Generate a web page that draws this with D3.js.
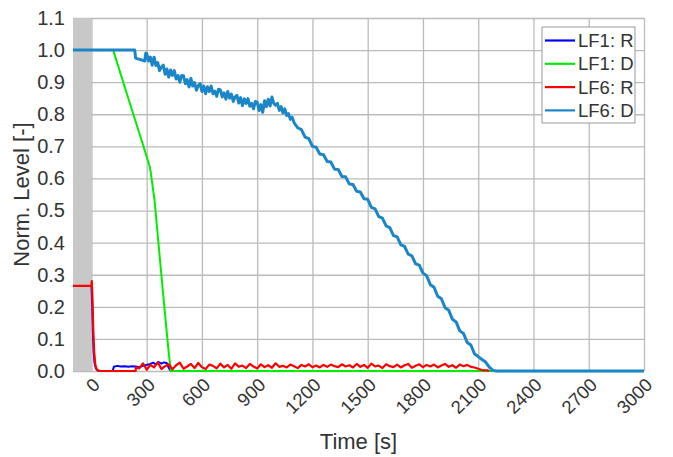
<!DOCTYPE html>
<html>
<head>
<meta charset="utf-8">
<script src="https://cdn.jsdelivr.net/npm/d3@7"></script>
<style>
  body { margin: 0; background: #fff; }
  text { font-family: "Liberation Sans", Arial, sans-serif; fill: #333; }
</style>
</head>
<body>
<div id="chart"></div>
<script>
// tick values for both axes
const xTicks = [0, 300, 600, 900, 1200, 1500, 1800, 2100, 2400, 2700, 3000];
const yTicks = [0, 0.1, 0.2, 0.3, 0.4, 0.5, 0.6, 0.7, 0.8, 0.9, 1.0, 1.1];

// series names, same order as the legend
const seriesNames = ["LF1: R", "LF1: D", "LF6: R", "LF6: D"];
const seriesColors = ["#0000ff", "#00ee00", "#ff0000", "#1a86c8"];

// LF1: R  [time, level]
const lf1R = [
    [0, 0.27], [4, 0.21], [8, 0.12], [12, 0.06], [17, 0.025], [24, 0.008], [32, 0.002], [45, 0],
    [115, 0], [122, 0.013], [140, 0.016], [160, 0.014], [180, 0.015], [200, 0.013],
    [220, 0.015], [240, 0.014], [260, 0.012], [280, 0.016], [300, 0.019], [320, 0.022],
    [335, 0.026], [350, 0.021], [365, 0.028], [380, 0.023], [395, 0.027], [410, 0.024],
    [418, 0.012], [428, 0.002], [440, 0], [3000, 0]
];

// LF1: D
const lf1D = [
    [-100, 1.0], [118, 1.0], [200, 0.85], [280, 0.705], [316, 0.638], [322, 0.62],
    [343, 0.53], [370, 0.36], [400, 0.175], [420, 0.055], [432, 0], [3000, 0]
];

// LF6: R, start of the series
const lf6RStart = [
    [-100, 0.265], [0, 0.265], [2, 0.28], [6, 0.22], [10, 0.13], [15, 0.06], [21, 0.02],
    [28, 0.006], [38, 0.001], [50, 0], [240, 0], [242, 0.011]
];
// LF6: R, noisy part read every 20 s from 260 s on
const lf6RNoiseStart = 260;
const lf6RNoiseStep = 20;
const lf6RNoise = [
    0.008, 0.024, 0.004, 0.019, 0.011, 0.027, 0.006, 0.015, 0.021, 0.005,
    0.018, 0.026, 0.007, 0.014, 0.022, 0.009, 0.025, 0.012, 0.006, 0.020,
    0.016, 0.008, 0.023, 0.011, 0.019, 0.007, 0.024, 0.013, 0.017, 0.009,
    0.022, 0.014, 0.008, 0.021, 0.012, 0.018, 0.010, 0.024, 0.013, 0.016,
    0.011, 0.020, 0.015, 0.009, 0.019, 0.014, 0.021, 0.012, 0.017, 0.011,
    0.019, 0.013, 0.020, 0.015, 0.012, 0.021, 0.014, 0.018, 0.011, 0.022,
    0.013, 0.019, 0.010, 0.023, 0.014, 0.017, 0.009, 0.021, 0.015, 0.012,
    0.020, 0.011, 0.018, 0.022, 0.010, 0.016, 0.021, 0.012, 0.019, 0.014,
    0.020, 0.011, 0.017, 0.022, 0.013, 0.018, 0.010, 0.020, 0.015, 0.019,
    0.013, 0.011, 0.007, 0.003
];
const lf6REnd = [[2150, 0.002], [2160, 0]];

// LF6: D, start of the series
const lf6DStart = [
    [-100, 1.0], [235, 1.0], [240, 0.975], [290, 0.966], [295, 0.99]
];
// LF6: D, noisy part read every 10 s from 300 s to 1100 s
const lf6DDenseStart = 300;
const lf6DDenseStep = 10;
const lf6DDense = [
    0.990, 0.966, 0.978, 0.953, 0.978, 0.952, 0.961, 0.936, 0.947, 0.953,
    0.925, 0.941, 0.916, 0.938, 0.921, 0.936, 0.910, 0.921, 0.900, 0.921,
    0.920, 0.895, 0.908, 0.885, 0.912, 0.888, 0.899, 0.875, 0.889, 0.896,
    0.871, 0.888, 0.864, 0.886, 0.871, 0.888, 0.864, 0.872, 0.856, 0.878,
    0.876, 0.854, 0.867, 0.847, 0.871, 0.850, 0.863, 0.840, 0.854, 0.859,
    0.835, 0.852, 0.827, 0.848, 0.834, 0.849, 0.825, 0.834, 0.817, 0.840,
    0.838, 0.812, 0.830, 0.806, 0.842, 0.824, 0.847, 0.826, 0.854, 0.834,
    0.828, 0.834, 0.812, 0.824, 0.804, 0.817, 0.796, 0.802, 0.784, 0.791,
    0.774
];
// LF6: D, read every 20 s from 1120 s to 2200 s
const lf6DTailStart = 1120;
const lf6DTailStep = 20;
const lf6DTail = [
    0.758, 0.752, 0.729, 0.724, 0.700, 0.697, 0.676, 0.674, 0.653, 0.651,
    0.629, 0.628, 0.606, 0.605, 0.583, 0.581, 0.560, 0.558, 0.537, 0.535,
    0.510, 0.505, 0.481, 0.476, 0.452, 0.447, 0.422, 0.418, 0.393, 0.388,
    0.364, 0.359, 0.334, 0.330, 0.305, 0.297, 0.269, 0.261, 0.233, 0.225,
    0.197, 0.189, 0.161, 0.153, 0.125, 0.117, 0.089, 0.081, 0.053, 0.045,
    0.036, 0.028, 0.012, 0.002, 0.000
];
const lf6DEnd = [[3000, 0]];

// put the sampled pieces together with their times
function withTimes(start, step, vals) {
    return vals.map((v, i) => [start + i * step, v]);
}
const lf6R = lf6RStart.concat(withTimes(lf6RNoiseStart, lf6RNoiseStep, lf6RNoise), lf6REnd);
const lf6D = lf6DStart.concat(
    withTimes(lf6DDenseStart, lf6DDenseStep, lf6DDense),
    withTimes(lf6DTailStart, lf6DTailStep, lf6DTail),
    lf6DEnd);

const allSeries = [lf1R, lf1D, lf6R, lf6D];
const lineWidths = [2, 2, 2.2, 3];

let margin = {top: 18, right: 29, bottom: 86, left: 73},
    width = 673 - margin.left - margin.right,
    height = 457 - margin.top - margin.bottom;

let svg = d3.select("#chart")
    .append("svg")
    .attr("width", 673)
    .attr("height", 457)
    .append("g")
    .attr("transform", "translate(" + margin.left + "," + margin.top + ")");

let x = d3.scaleLinear().domain([-100, 3000]).range([0, width]);
let y = d3.scaleLinear().domain([0, 1.1]).range([height, 0]);

// grid lines + tick labels
let yAxis = svg.append("g")
    .call(d3.axisLeft(y).tickValues(yTicks).tickFormat(d3.format(".1f"))
        .tickSize(-width).tickPadding(8));
yAxis.select(".domain").remove();
yAxis.selectAll("line").attr("stroke", "#bbbbbb").attr("stroke-width", 1.3);
yAxis.selectAll("text").style("font-size", "20px").attr("fill", "#333");

let xAxis = svg.append("g")
    .attr("transform", "translate(0," + height + ")")
    .call(d3.axisBottom(x).tickValues(xTicks).tickFormat(d3.format("d"))
        .tickSize(-height).tickPadding(0));
xAxis.select(".domain").remove();
xAxis.selectAll("line").attr("stroke", "#bbbbbb").attr("stroke-width", 1.3);
xAxis.selectAll("text")
    .style("font-size", "18.5px")
    .attr("fill", "#333")
    .style("text-anchor", "end")
    .attr("y", 0)
    .attr("dy", null)
    .attr("transform", "translate(9,15) rotate(-45)");

// grey band for negative time
svg.append("rect")
    .attr("x", x(-100))
    .attr("y", 0)
    .attr("width", x(0) - x(-100))
    .attr("height", height)
    .attr("fill", "#c8c8c8");

// the lines
let line = d3.line()
    .x(d => x(d[0]))
    .y(d => y(d[1]));

allSeries.forEach((s, i) => {
    svg.append("path")
        .datum(s)
        .attr("fill", "none")
        .attr("stroke", seriesColors[i])
        .attr("stroke-width", lineWidths[i])
        .attr("stroke-linejoin", "round")
        .attr("d", line);
});

// axis titles
svg.append("text")
    .attr("text-anchor", "middle")
    .attr("x", width / 2)
    .attr("y", height + 78)
    .style("font-size", "22px")
    .text("Time [s]");

svg.append("text")
    .attr("text-anchor", "middle")
    .attr("transform", "rotate(-90)")
    .attr("x", -height / 2)
    .attr("y", -44)
    .style("font-size", "22px")
    .text("Norm. Level [-]");

// legend
let legend = svg.append("g")
    .attr("transform", "translate(" + (542 - margin.left) + "," + (27 - margin.top) + ")");

legend.append("rect")
    .attr("width", 93)
    .attr("height", 96)
    .attr("fill", "#fff")
    .attr("stroke", "#999")
    .attr("stroke-width", 1);

seriesNames.forEach((name, i) => {
    let ly = 13.5 + i * 23.3;
    legend.append("line")
        .attr("x1", 3).attr("x2", 33)
        .attr("y1", ly).attr("y2", ly)
        .attr("stroke", seriesColors[i])
        .attr("stroke-width", 2.2);
    legend.append("text")
        .attr("x", 36)
        .attr("y", ly)
        .attr("dy", "0.36em")
        .style("font-size", "18.5px")
        .text(name);
});
</script>
</body>
</html>
